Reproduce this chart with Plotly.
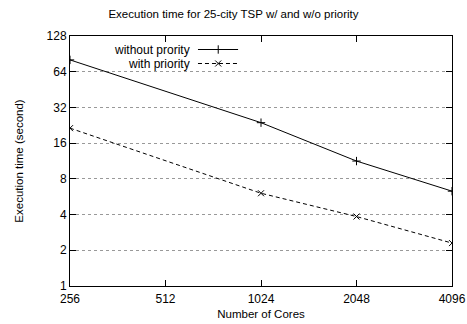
import plotly.graph_objects as go

# Execution time (seconds) for the 25-city TSP run
cores = [256, 1024, 2048, 4096]
time_without_priority = [80.5, 23.8, 11.3, 6.3]
time_with_priority = [21.4, 6.05, 3.85, 2.3]

x_ticks = [256, 512, 1024, 2048, 4096]
y_ticks = [1, 2, 4, 8, 16, 32, 64, 128]

series_names = ["without prority", "with priority"]

FONT = "Liberation Sans, Arial, Helvetica, sans-serif"

fig = go.Figure()

fig.add_trace(go.Scatter(
    x=cores, y=time_without_priority, mode="lines+markers",
    name=series_names[0],
    line=dict(color="black", width=1),
    marker=dict(symbol="cross-thin-open", size=6, color="black",
                line=dict(color="black", width=1)),
))
fig.add_trace(go.Scatter(
    x=cores, y=time_with_priority, mode="lines+markers",
    name=series_names[1],
    line=dict(color="black", width=1, dash="4px,3px"),
    marker=dict(symbol="x-thin-open", size=6, color="black",
                line=dict(color="black", width=1)),
))

# gnuplot-style key: label text on the left, line sample on the right
key_rows = [0.946, 0.890]
key_dash = ["solid", "4px,3px"]
key_symbol = ["cross-thin-open", "x-thin-open"]
for name, ky, dash, sym in zip(series_names, key_rows, key_dash, key_symbol):
    fig.add_annotation(
        x=0.317, y=ky, xref="paper", yref="paper", text=name,
        showarrow=False, xanchor="right", yanchor="middle", borderpad=0,
        font=dict(family=FONT, size=12, color="black"),
    )
    fig.add_trace(go.Scatter(
        x=[0.335, 0.388, 0.440], y=[ky, ky, ky], xaxis="x2", yaxis="y2",
        mode="lines", line=dict(color="black", width=1, dash=dash),
        showlegend=False, hoverinfo="skip",
    ))
    fig.add_trace(go.Scatter(
        x=[0.388], y=[ky], xaxis="x2", yaxis="y2", mode="markers",
        marker=dict(symbol=sym, size=6, color="black",
                    line=dict(color="black", width=1)),
        showlegend=False, hoverinfo="skip",
    ))

fig.update_layout(
    width=467, height=324,
    margin=dict(l=70, r=15, t=36, b=38, autoexpand=False),
    paper_bgcolor="white", plot_bgcolor="white",
    showlegend=False,
    font=dict(family=FONT, size=12, color="black"),
    title=dict(text="Execution time for 25-city TSP w/ and w/o priority",
               x=0.5, xanchor="center", y=0.957, yanchor="middle",
               font=dict(family=FONT, size=11.5, color="black")),
    xaxis=dict(
        type="log", range=[2.40824, 3.61236],
        tickvals=x_ticks, ticktext=[str(v) for v in x_ticks],
        ticks="inside", ticklen=6, tickcolor="black", mirror="ticks",
        showline=True, linecolor="black", linewidth=1,
        showgrid=False, zeroline=False, ticklabelstandoff=2,
        title=dict(text="Number of Cores", font=dict(size=11.5), standoff=4),
        tickfont=dict(size=12),
    ),
    yaxis=dict(
        type="log", range=[0, 2.10721],
        tickvals=y_ticks, ticktext=[str(v) for v in y_ticks],
        ticks="inside", ticklen=6, tickcolor="black", mirror="ticks",
        showline=True, linecolor="black", linewidth=1,
        showgrid=True, gridcolor="#999999", griddash="dot", gridwidth=1,
        zeroline=False,
        title=dict(text="Execution time (second)", font=dict(size=11.5), standoff=20),
        tickfont=dict(size=12),
    ),
    xaxis2=dict(overlaying="x", range=[0, 1], visible=False, fixedrange=True),
    yaxis2=dict(overlaying="y", range=[0, 1], visible=False, fixedrange=True),
)

fig.write_html("out.html")
